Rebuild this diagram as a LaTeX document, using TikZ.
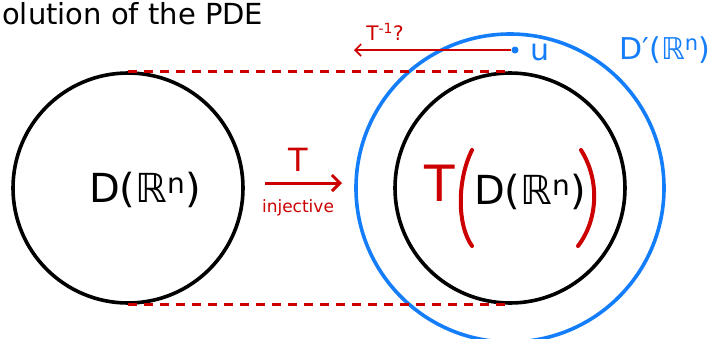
\documentclass[tikz,border=0pt]{standalone}
\usepackage{fontspec}
\usetikzlibrary{arrows.meta}
\setmainfont{DejaVu Sans}
\definecolor{hred}{RGB}{204,0,0}
\definecolor{hblue}{RGB}{20,125,250}
\begin{document}
\begin{tikzpicture}[x=1pt,y=-1pt,
  ring/.style={line width=3.6pt},
  reddash/.style={hred,line width=3pt,dash pattern=on 9pt off 7pt},
  redarrow/.style={hred,line width=3pt,-{Straight Barb[length=8pt,width=16pt]}},
  thinarrow/.style={hred,line width=1.6pt,-{Straight Barb[length=6pt,width=12pt]}},
  paren/.style={hred,line width=4pt,line cap=round},
  big/.style={font=\fontsize{40}{40}\selectfont},
  lab/.style={inner sep=0pt}]
\useasboundingbox (0,0) rectangle (718,338);
\node[lab,anchor=base west,font=\fontsize{29}{29}\selectfont] (title) at (2,24) {olution of the PDE};
% circles
\node[ring,draw,circle,minimum size=230pt,inner sep=0pt] (L) at (128,188) {};
\node[ring,draw,circle,minimum size=230pt,inner sep=0pt] (R) at (510,188) {};
\node[ring,draw=hblue,circle,minimum size=308pt,inner sep=0pt] (B) at (510,188) {};
% dashed red lines
\draw[reddash] (L.north) -- (R.north);
\draw[reddash] (L.south) -- (R.south);
% texts
\node[lab,big] (dl) at (145,190) {D(ℝ\textsuperscript{n})};
\node[lab,text=hred,font=\fontsize{50}{50}\selectfont] (tt) at (440,183) {T};
\node[lab,big] (dr) at (530,192) {D(ℝ\textsuperscript{n})};
% big red parentheses
\coordinate (lp1) at (472,150);
\coordinate (lp2) at (472,246);
\coordinate (rp1) at (581,150);
\coordinate (rp2) at (578,246);
\draw[paren] (lp1) .. controls (457,180) and (457,225) .. (lp2);
\draw[paren] (rp1) .. controls (600,180) and (598,220) .. (rp2);
% T arrow
\coordinate (ta) at (265,183);
\coordinate (tb) at (342,183);
\draw[redarrow] (ta) -- (tb);
\node[lab,text=hred,font=\fontsize{32}{32}\selectfont] (T) at (298,160) {T};
\node[lab,text=hred,font=\fontsize{17}{17}\selectfont] (inj) at (298,208) {injective};
% inverse arrow
\node[circle,fill=hblue,inner sep=0pt,minimum size=7pt] (u) at (515,50) {};
\coordinate (ia) at (354,50);
\draw[thinarrow] (u) -- (ia);
\node[lab,text=hred,font=\fontsize{20}{20}\selectfont] (Tinv) at (385,32) {T\textsuperscript{-1}?};
\node[lab,text=hblue,font=\fontsize{30}{30}\selectfont] (ul) at (540,52) {u};
\node[lab,text=hblue,font=\fontsize{30}{30}\selectfont] (Dp) at (665,50) {D′(ℝ\textsuperscript{n})};
\end{tikzpicture}
\end{document}
